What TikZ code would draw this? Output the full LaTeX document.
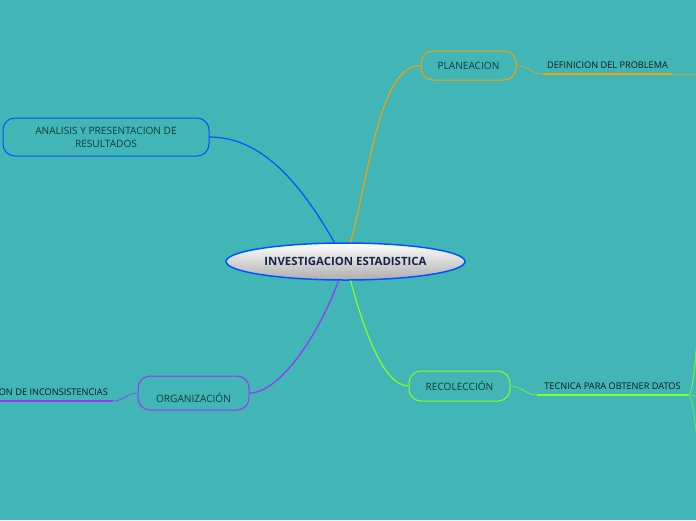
\documentclass[tikz,border=0pt]{standalone}
\usepackage{fontspec}
\setmainfont{Open Sans}
\usetikzlibrary{shapes.geometric}
\definecolor{bgteal}{RGB}{66,181,182}
\definecolor{mblue}{RGB}{0,85,255}
\definecolor{morange}{RGB}{240,163,10}
\definecolor{mpurple}{RGB}{153,51,255}
\definecolor{mgreen}{RGB}{128,255,40}
\definecolor{boxtext}{RGB}{8,62,62}
\definecolor{leaftext}{RGB}{14,24,30}
\definecolor{roottext}{RGB}{24,36,72}

\begin{document}
\begin{tikzpicture}[x=1pt,y=-1pt,
   root/.style={ellipse,draw=mblue,line width=1.5pt,top color=white,bottom color=black!32,
     inner sep=0pt,minimum width=239pt,minimum height=37pt,text=roottext,
     font=\fontsize{11.4}{13}\selectfont\bfseries},
   topic/.style={rounded corners=12pt,draw,line width=1pt,inner sep=0pt,text=boxtext,
     align=center,font=\fontsize{10.1}{13}\selectfont},
   leaf/.style={inner ysep=3pt,text height=7pt,text depth=2pt,text=leaftext,
     font=\fontsize{9.2}{10}\selectfont},
   branch/.style={line width=1.2pt,in looseness=0.55},
   twig/.style={line width=0.6pt}]
   \fill[bgteal] (0,0) rectangle (696,520);
   \clip (0,0) rectangle (696,520);
   \node[root] (inv) at (345.5,261.5) {INVESTIGACION ESTADISTICA};
   \node[topic,draw=morange,minimum width=95pt,minimum height=29pt] (plan) at (468.5,65.5) {PLANEACION};
   \node[topic,draw=mblue,minimum width=206pt,minimum height=38pt] (anal) at (106,137) {ANALISIS Y PRESENTACION DE\\RESULTADOS};
   \node[topic,draw=mpurple,minimum width=111pt,minimum height=34pt,text height=19pt] (orga) at (193.5,393) {ORGANIZACIÓN};
   \node[topic,draw=mgreen,minimum width=101pt,minimum height=30pt] (reco) at (459.5,386) {RECOLECCIÓN};
   \node[leaf,minimum width=129pt,anchor=south] (defi) at (607.5,74) {DEFINICION DEL PROBLEMA};
   \node[leaf,minimum width=151pt,anchor=south] (tecn) at (612.5,395) {TECNICA PARA OBTENER DATOS};
   \node[leaf,inner xsep=5pt,anchor=south east] (inco) at (113,401) {ON DE INCONSISTENCIAS};
   % ramas que siguen fuera del cuadro
   \coordinate (defi_out) at (740,74);
   \coordinate (tecn_a) at (720,-66);
   \coordinate (tecn_b) at (720,0);
   \coordinate (tecn_c) at (720,410);
   \coordinate (tecn_d) at (720,760);
   \path[branch]
   (inv.75)  edge[morange,out=75,in=180] (plan.west)
   (inv.120) edge[mblue,out=120,in=0,in looseness=0.85] (anal.east)
   (inv.250) edge[mpurple,out=250,in=0] (orga.east)
   (inv.285) edge[mgreen,out=285,in=180] (reco.west);
   \path[twig]
   (plan.east) edge[morange,out=0,in=180] (defi.south west)
   (orga.west) edge[mpurple,out=180,in=0] (inco.south east)
   (reco.east) edge[mgreen,out=0,in=180] (tecn.south west);
   \draw[morange,line width=2pt] (defi.south west) -- (defi.south east);
   \draw[mpurple,line width=2pt] (inco.south west) -- (inco.south east);
   \draw[mgreen,line width=2pt] (tecn.south west) -- (tecn.south east);
   \draw[morange!70!bgteal,twig] (defi.south east) -- (defi_out);
   \draw[mgreen!80!bgteal,twig] (tecn.south east) .. controls +(16,0) and +(-16,0) .. (tecn_a);
   \draw[mgreen!80!bgteal,twig] (tecn.south east) .. controls +(16,0) and +(-16,0) .. (tecn_b);
   \draw[mgreen!80!bgteal,twig] (tecn.south east) .. controls +(16,0) and +(-16,0) .. (tecn_c);
   \draw[mgreen!80!bgteal,twig] (tecn.south east) .. controls +(16,0) and +(-16,0) .. (tecn_d);
\end{tikzpicture}
\end{document}
